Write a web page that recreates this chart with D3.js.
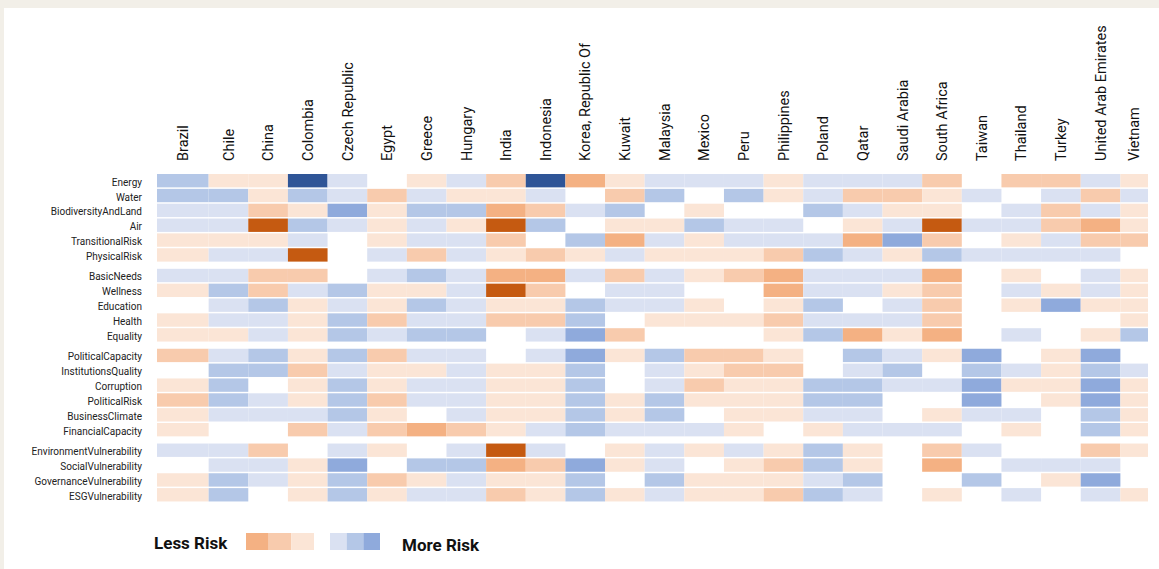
<!DOCTYPE html>
<html lang="en">
<head>
<meta charset="UTF-8">
<title>Country ESG Risk Heatmap</title>
<script src="https://d3js.org/d3.v7.min.js"></script>
<style>
    body { margin: 0; background: #f2efe8; }
    svg { display: block; }
    .col-label { font-family: Roboto, sans-serif; font-size: 14.5px; fill: #111; }
    .row-label { font-family: Roboto, sans-serif; font-size: 10px; fill: #222; }
    .legend-text { font-family: Roboto, sans-serif; font-size: 17px; font-weight: bold; fill: #111; }
</style>
</head>
<body>
<svg></svg>
<script>
    var countries = ["Brazil", "Chile", "China", "Colombia", "Czech Republic", "Egypt", "Greece",
        "Hungary", "India", "Indonesia", "Korea, Republic Of", "Kuwait", "Malaysia", "Mexico", "Peru",
        "Philippines", "Poland", "Qatar", "Saudi Arabia", "South Africa", "Taiwan", "Thailand",
        "Turkey", "United Arab Emirates", "Vietnam"];

    // risk level per country: -4..-1 = less risk (orange), 0 = neutral, 1..4 = more risk (blue)
    var environmentRows = ["Energy", "Water", "BiodiversityAndLand", "Air", "TransitionalRisk", "PhysicalRisk"];
    var environmentLevels = [
        [2,-1,-1,4,1,0,-1,1,-2,4,-3,-1,1,1,1,-1,1,1,1,-2,0,-2,-2,1,-1],
        [2,2,-1,2,1,-2,1,-1,-1,1,0,-2,2,0,2,-1,1,-2,-2,-1,1,0,1,-2,1],
        [1,1,-2,-1,3,-1,2,2,-3,-2,1,2,0,-1,0,0,2,1,-1,-1,0,1,-2,1,-1],
        [1,1,-4,2,1,-1,1,-1,-4,2,0,-1,-1,2,1,1,0,-1,1,-4,1,1,-2,-3,-1],
        [-1,-1,-1,1,0,-1,1,1,-2,0,2,-3,1,-1,1,1,1,-3,3,-2,0,-1,1,-2,-2],
        [-1,1,1,-4,0,1,-2,1,-1,-2,-1,1,-1,-1,-1,-2,2,1,-1,2,1,1,1,1,0]
    ];

    var socialRows = ["BasicNeeds", "Wellness", "Education", "Health", "Equality"];
    var socialLevels = [
        [1,1,-2,-2,0,1,2,1,-3,-3,1,-2,1,-1,-2,-3,1,1,1,-3,0,-1,0,1,-1],
        [-1,2,-2,1,2,-1,-1,1,-4,-2,0,1,1,0,0,-3,1,1,-1,-2,0,1,-1,1,-1],
        [0,1,2,-1,1,-1,2,1,-1,-1,2,1,1,-1,0,-1,2,0,1,-2,0,-1,3,-1,-1],
        [-1,1,1,-1,2,-2,1,1,-2,-2,2,0,-1,-1,-1,-2,1,1,1,-2,0,0,0,0,-1],
        [-1,-1,1,-1,2,1,2,2,0,1,3,-2,0,0,0,-1,2,-3,-1,-3,0,1,0,-1,2]
    ];

    var governanceRows = ["PoliticalCapacity", "InstitutionsQuality", "Corruption", "PoliticalRisk",
        "BusinessClimate", "FinancialCapacity"];
    var governanceLevels = [
        [-2,1,2,-1,2,-2,1,1,0,1,3,-1,2,-2,-2,-1,0,2,1,-1,3,0,-1,3,0],
        [0,2,2,-2,1,-1,-1,1,-1,-1,2,0,1,-1,-2,-2,0,1,2,0,2,1,-1,2,1],
        [-1,2,0,-1,2,-1,1,1,-1,-1,2,0,1,-2,-1,-1,2,2,1,1,3,-1,-1,3,-1],
        [-2,2,1,-1,2,-2,1,1,-1,-1,2,-1,2,-1,-1,-1,2,2,0,0,3,0,-1,3,-1],
        [-1,1,1,1,2,-1,0,1,-1,-1,2,-1,2,0,-1,-1,1,1,0,-1,1,1,0,2,-1],
        [-1,0,0,-2,1,-2,-3,-2,-1,1,2,1,1,1,-1,0,-1,1,1,1,0,-1,0,2,-1]
    ];

    var vulnerabilityRows = ["EnvironmentVulnerability", "SocialVulnerability", "GovernanceVulnerability",
        "ESGVulnerability"];
    var vulnerabilityLevels = [
        [1,1,-2,0,1,-1,0,1,-4,1,0,-1,1,-1,1,-1,2,-1,0,-2,1,0,0,-2,-1],
        [0,1,1,-1,3,0,2,2,-3,-2,3,-1,1,0,-1,-2,2,-1,0,-3,0,1,1,1,0],
        [-1,2,1,-1,2,-2,-1,1,-1,-1,2,0,2,-1,-1,-1,1,2,0,0,2,0,-1,3,0],
        [-1,2,0,-1,2,-1,1,1,-2,-1,2,-1,1,-1,-1,-2,2,1,0,-1,0,1,0,1,-1]
    ];

    var lessRiskLegend = [-3, -2, -1];
    var moreRiskLegend = [1, 2, 3];

    var w = 1159, h = 569;
    var gridLeft = 157, gridRight = 1148, gridTop = 174;
    var rowStep = 14.85, groupGap = 5.7;

    var groups = [
        { rows: environmentRows, levels: environmentLevels },
        { rows: socialRows, levels: socialLevels },
        { rows: governanceRows, levels: governanceLevels },
        { rows: vulnerabilityRows, levels: vulnerabilityLevels }
    ];

    var cells = [];
    var rowInfo = [];
    groups.forEach(function(g, gi) {
        g.rows.forEach(function(name, ri) {
            rowInfo.push({ name: name, group: gi });
            countries.forEach(function(c, ci) {
                cells.push({ row: name, group: gi, country: c, col: ci, level: g.levels[ri][ci] });
            });
        });
    });

    var color = d3.scaleOrdinal()
        .domain([-4, -3, -2, -1, 0, 1, 2, 3, 4])
        .range(["#c55a11", "#f4b183", "#f8cbad", "#fbe5d6", "#ffffff", "#dae1f2", "#b4c7e7", "#8faadc", "#2f5597"]);

    var x = d3.scaleBand().domain(countries).range([169, 1160]).paddingInner(0);
    var y = d3.scaleBand().domain(rowInfo.map(d => d.name))
        .range([0, rowStep * (rowInfo.length - 0.1)]).paddingInner(0.1);

    // first column reaches the grid's left edge, last one is cut at its right edge
    function cellX0(c) { return countries.indexOf(c) === 0 ? gridLeft : x(c); }
    function cellX1(c) { return Math.min(gridRight, x(c) + x.bandwidth()); }
    function rowY(name, gi) { return gridTop + y(name) + gi * groupGap; }

    var svg = d3.select("svg").attr("width", w).attr("height", h);

    svg.append("rect")
        .attr("x", 4).attr("y", 8)
        .attr("width", w - 4).attr("height", h - 8)
        .attr("fill", "#ffffff");

    // heatmap cells
    svg.append("g")
        .selectAll("rect")
        .data(cells.filter(d => d.level !== 0))
        .join("rect")
        .attr("x", d => cellX0(d.country))
        .attr("y", d => rowY(d.row, d.group))
        .attr("width", d => cellX1(d.country) - cellX0(d.country))
        .attr("height", y.bandwidth())
        .attr("fill", d => color(d.level));

    // country labels
    svg.append("g")
        .selectAll("text")
        .data(countries)
        .join("text")
        .attr("class", "col-label")
        .attr("transform", d => "translate(" + ((cellX0(d) + cellX1(d)) / 2) + ",161) rotate(-90)")
        .attr("dy", "0.36em")
        .text(d => d);

    // indicator labels
    svg.append("g")
        .selectAll("text")
        .data(rowInfo)
        .join("text")
        .attr("class", "row-label")
        .attr("x", 142)
        .attr("y", d => rowY(d.name, d.group) + y.bandwidth() / 2)
        .attr("dy", "0.5em")
        .attr("text-anchor", "end")
        .text(d => d.name);

    // legend
    var legendLess = d3.scaleBand().domain(lessRiskLegend).range([246, 314]);
    var legendMore = d3.scaleBand().domain(moreRiskLegend).range([330, 380]);
    var legend = svg.append("g");

    legend.selectAll("rect.less")
        .data(lessRiskLegend)
        .join("rect")
        .attr("class", "less")
        .attr("x", d => legendLess(d))
        .attr("y", 533)
        .attr("width", legendLess.bandwidth())
        .attr("height", 17)
        .attr("fill", d => color(d));

    legend.selectAll("rect.more")
        .data(moreRiskLegend)
        .join("rect")
        .attr("class", "more")
        .attr("x", d => legendMore(d))
        .attr("y", 533)
        .attr("width", legendMore.bandwidth())
        .attr("height", 17)
        .attr("fill", d => color(d));

    legend.append("text").attr("class", "legend-text")
        .attr("x", 154).attr("y", 549).text("Less Risk");
    legend.append("text").attr("class", "legend-text")
        .attr("x", 402).attr("y", 551).text("More Risk");
</script>
</body>
</html>
